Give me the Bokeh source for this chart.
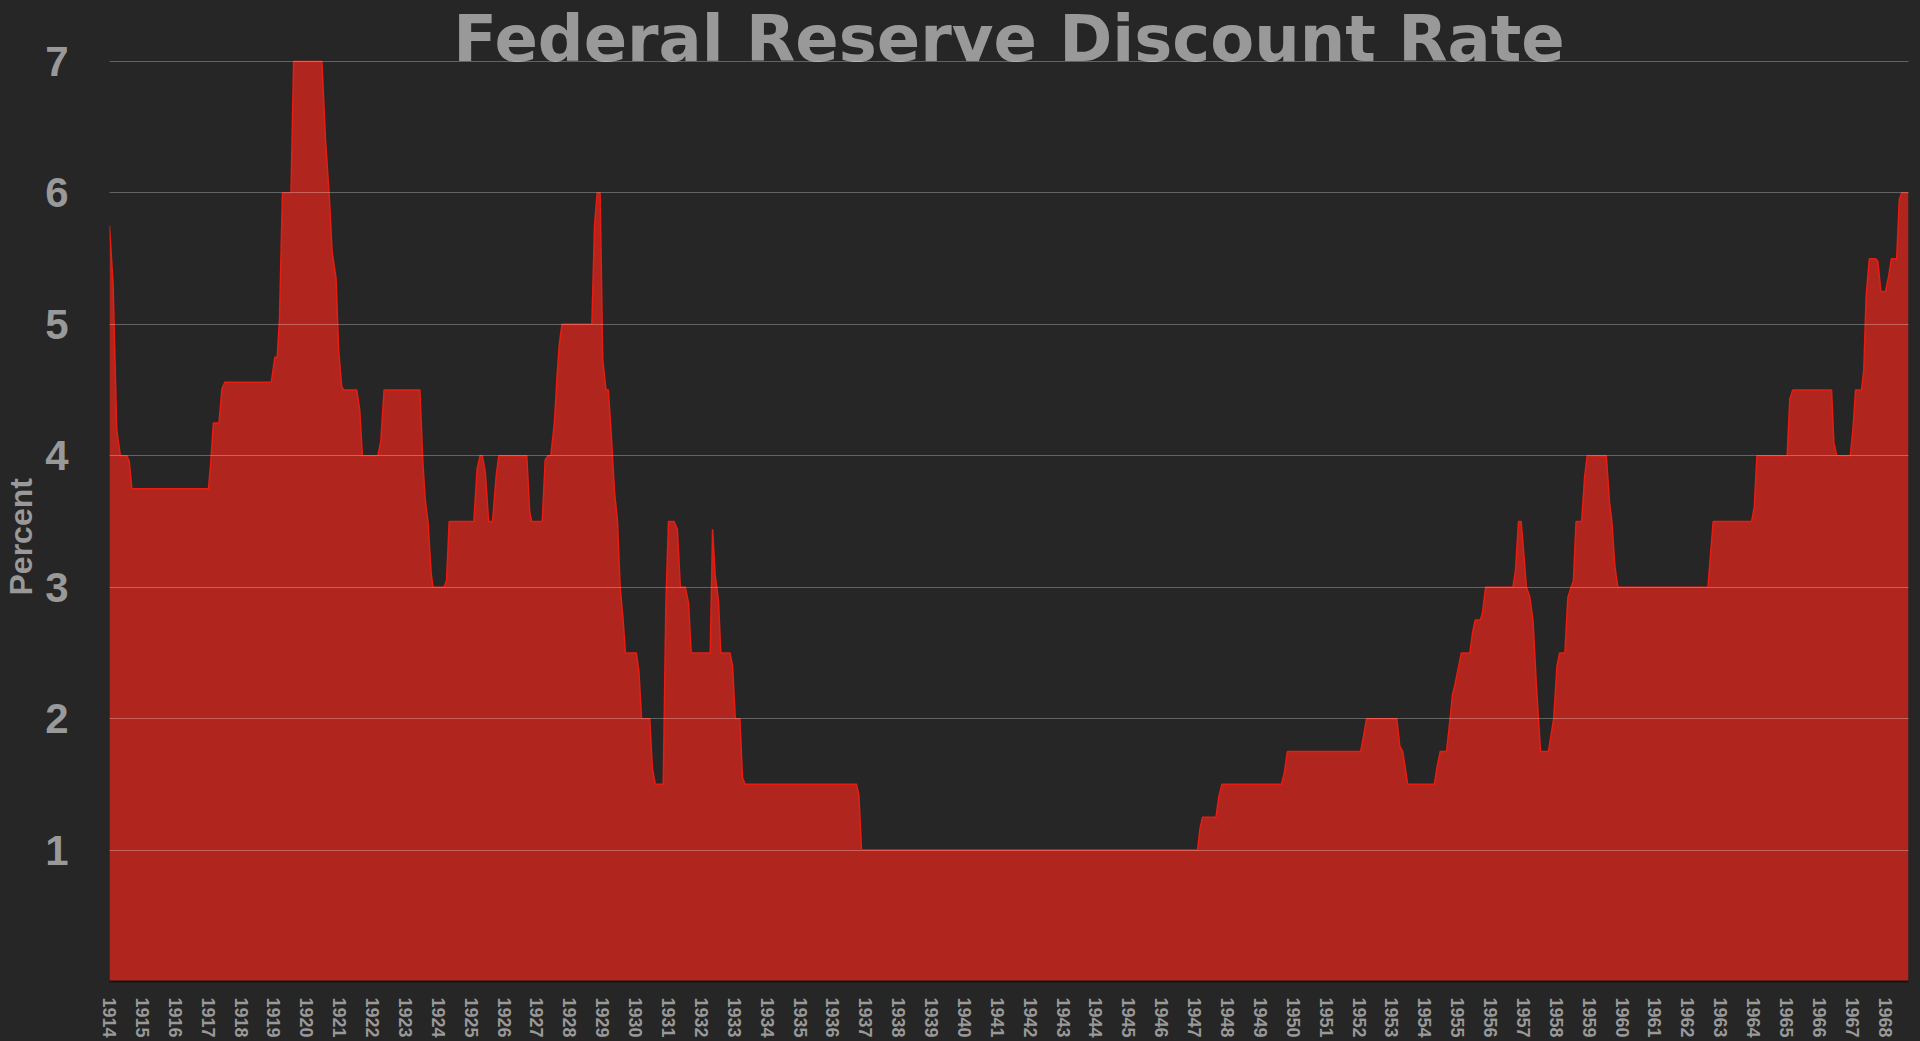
#!/usr/bin/env python
# Federal Reserve discount rate, monthly values, dark area chart

from bokeh.plotting import figure
from bokeh.models import Range1d, FixedTicker, Label, Title
from bokeh.embed import file_html
from bokeh.resources import INLINE

# x position in axis years (tick "1914" is the first observation), rate in percent
dates = [1914.00, 1914.11, 1914.22, 1914.33, 1914.53, 1914.60, 1914.68,
         1917.01, 1917.08, 1917.16, 1917.33, 1917.42, 1917.51,
         1918.92, 1919.03, 1919.10, 1919.17, 1919.26, 1919.52, 1919.60,
         1920.46, 1920.57, 1920.69, 1920.77, 1920.89, 1920.97, 1921.06, 1921.12,
         1921.52, 1921.61, 1921.69, 1922.16, 1922.25, 1922.35,
         1923.44, 1923.53, 1923.60, 1923.69, 1923.78, 1923.84,
         1924.17, 1924.25, 1924.33, 1925.08, 1925.18, 1925.27, 1925.34,
         1925.43, 1925.53, 1925.65, 1925.76, 1925.84,
         1926.69, 1926.78, 1926.84, 1927.16, 1927.25, 1927.34, 1927.42,
         1927.53, 1927.61, 1927.68, 1927.76,
         1928.67, 1928.75, 1928.83, 1928.92, 1929.00, 1929.10, 1929.17,
         1929.25, 1929.36, 1929.45, 1929.53, 1929.62, 1929.69,
         1930.02, 1930.10, 1930.18, 1930.43, 1930.51, 1930.60,
         1930.84, 1930.92, 1931.00, 1931.17, 1931.27, 1931.36,
         1931.51, 1931.61, 1931.69, 1932.27, 1932.34, 1932.42, 1932.52, 1932.59,
         1932.87, 1932.95, 1933.03, 1933.17, 1933.25, 1933.33,
         1936.72, 1936.79, 1936.87,
         1947.09, 1947.16, 1947.24, 1947.65, 1947.74, 1947.83,
         1949.64, 1949.73, 1949.82, 1952.05, 1952.14, 1952.23,
         1953.15, 1953.24, 1953.33, 1953.48, 1954.29, 1954.38, 1954.47,
         1954.66, 1954.77, 1954.84, 1954.91, 1954.99, 1955.11,
         1955.37, 1955.45, 1955.53, 1955.69, 1955.75, 1955.85,
         1956.68, 1956.76, 1956.85, 1956.93, 1957.01, 1957.09, 1957.19,
         1957.29, 1957.39, 1957.52, 1957.76, 1957.85, 1957.92, 1958.02,
         1958.10, 1958.26, 1958.35, 1958.45, 1958.52, 1958.60, 1958.77,
         1958.86, 1958.94, 1959.52, 1959.62, 1959.69, 1959.78, 1959.87,
         1962.61, 1962.77, 1963.94, 1964.02, 1964.10,
         1965.02, 1965.10, 1965.19, 1966.37, 1966.44, 1966.53,
         1966.94, 1967.02, 1967.10, 1967.28, 1967.35, 1967.42, 1967.52,
         1967.71, 1967.78, 1967.87, 1968.01, 1968.11, 1968.19,
         1968.35, 1968.43, 1968.50, 1968.71]
rates = [5.75, 5.30, 4.20, 4.00, 4.00, 3.96, 3.75,
         3.75, 3.95, 4.25, 4.25, 4.51, 4.56,
         4.56, 4.75, 4.75, 5.04, 6.00, 6.00, 7.00,
         7.00, 6.40, 5.95, 5.55, 5.35, 4.80, 4.53, 4.50,
         4.50, 4.35, 4.00, 4.00, 4.11, 4.50,
         4.50, 3.95, 3.67, 3.49, 3.11, 3.00,
         3.00, 3.05, 3.50, 3.50, 3.90, 4.00, 4.00,
         3.87, 3.50, 3.50, 3.85, 4.00,
         4.00, 3.57, 3.50, 3.50, 3.97, 4.00, 4.00,
         4.25, 4.60, 4.85, 5.00,
         5.00, 5.75, 6.00, 6.00, 4.73, 4.50, 4.50,
         4.20, 3.72, 3.50, 3.00, 2.75, 2.50,
         2.50, 2.36, 2.00, 2.00, 1.62, 1.50,
         1.50, 2.87, 3.50, 3.50, 3.44, 3.00,
         3.00, 2.88, 2.50, 2.50, 3.44, 3.09, 2.90, 2.50,
         2.50, 2.40, 2.00, 2.00, 1.55, 1.50,
         1.50, 1.42, 1.00,
         1.00, 1.16, 1.25, 1.25, 1.41, 1.50,
         1.50, 1.59, 1.75, 1.75, 1.87, 2.00,
         2.00, 1.79, 1.75, 1.50, 1.50, 1.64, 1.75,
         1.75, 2.00, 2.18, 2.25, 2.35, 2.50,
         2.50, 2.65, 2.75, 2.75, 2.80, 3.00,
         3.00, 3.13, 3.50, 3.50, 3.26, 3.00, 2.93,
         2.75, 2.27, 1.75, 1.75, 1.89, 2.00, 2.40,
         2.50, 2.50, 2.92, 3.00, 3.05, 3.50, 3.50,
         3.84, 4.00, 4.00, 3.64, 3.50, 3.16, 3.00,
         3.00, 3.50, 3.50, 3.61, 4.00,
         4.00, 4.43, 4.50, 4.50, 4.10, 4.00,
         4.00, 4.20, 4.50, 4.50, 4.65, 5.21, 5.50,
         5.50, 5.48, 5.25, 5.25, 5.37, 5.50,
         5.50, 5.95, 6.00, 6.00]
years = list(range(1914, 1969))
y_ticks = [1, 2, 3, 4, 5, 6, 7]

BG = '#262626'
GREY = '#999999'
FONT = 'Liberation Sans'

# y range runs a bit past 7 so the big title can sit on the top grid line
p = figure(width=1920, height=1041, output_backend='svg', toolbar_location=None,
           x_range=Range1d(1914, 1968.71), y_range=Range1d(0, 7.464),
           min_border_left=109, min_border_right=12,
           min_border_top=0, min_border_bottom=60)
# paint the border via css, so no white seams show round the frame
p.styles = {'background-color': BG}
p.background_fill_color = BG
p.border_fill_color = None
p.outline_line_color = None

p.varea(x=dates, y1=0, y2=rates, fill_color='#b0261e')
p.line(dates, rates, line_color='#e81c10', line_width=1.5)

p.xgrid.grid_line_color = None
p.ygrid.ticker = FixedTicker(ticks=y_ticks)
p.ygrid.grid_line_color = 'white'
p.ygrid.grid_line_alpha = 0.28
p.ygrid.level = 'overlay'

xa = p.xaxis[0]
xa.ticker = FixedTicker(ticks=years)
xa.major_label_orientation = 'vertical'
xa.major_label_text_font = FONT
xa.major_label_text_font_style = 'bold'
xa.major_label_text_font_size = '18px'
xa.major_label_text_color = GREY
xa.major_label_standoff = 10
xa.major_tick_line_color = None
xa.minor_tick_line_color = None
xa.axis_line_color = '#141414'
xa.axis_line_width = 2

ya = p.yaxis[0]
ya.ticker = FixedTicker(ticks=y_ticks)
ya.major_label_text_font = FONT
ya.major_label_text_font_style = 'bold'
ya.major_label_text_font_size = '42px'
ya.major_label_text_color = GREY
ya.major_label_standoff = 35
ya.major_tick_line_color = None
ya.minor_tick_line_color = None
ya.axis_line_color = None

ylabel = Title(text='Percent', align='left', offset=386, vertical_align='top',
               standoff=4, text_font=FONT, text_font_style='bold',
               text_font_size='32px', text_color=GREY)
p.add_layout(ylabel, 'left')

# wide face so the title keeps its width yet stays inside the canvas
title = Label(x=(1914 + 1968.71) / 2, y=7, y_offset=22,
              text='Federal Reserve Discount Rate',
              text_align='center', text_baseline='middle',
              text_font='DejaVu Sans', text_font_style='bold',
              text_font_size='64px', text_color=GREY)
p.add_layout(title)

open('out.html', 'w').write(file_html(p, INLINE))
